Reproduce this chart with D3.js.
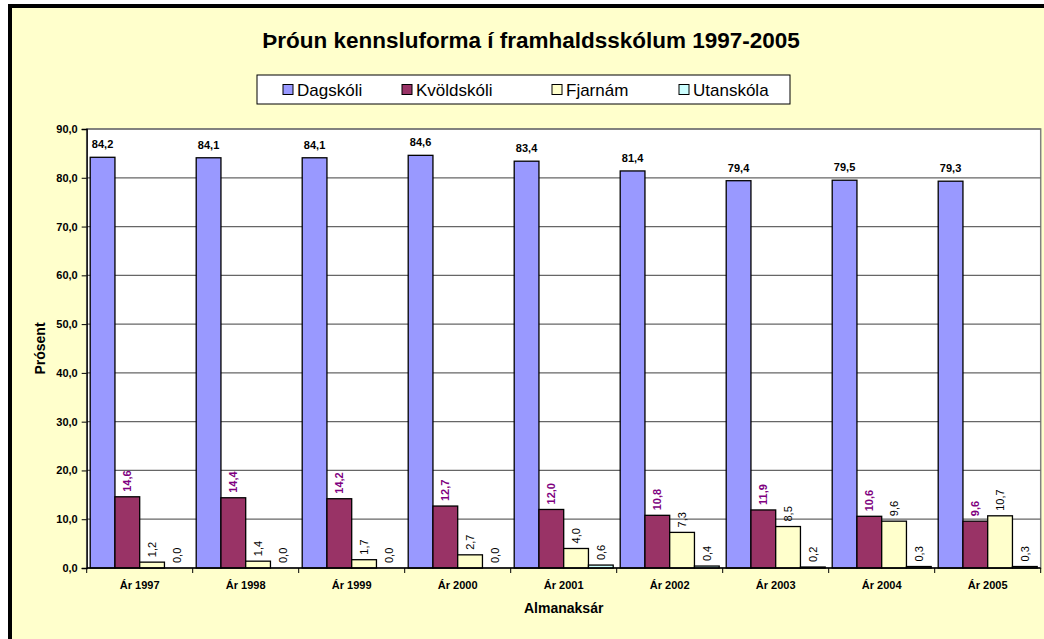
<!DOCTYPE html>
<html>
<head>
<meta charset="utf-8">
<script src="https://cdn.jsdelivr.net/npm/d3@7"></script>
<style>
	body { margin: 0; background: white; }
	text { font-family: Arial, 'Liberation Sans', sans-serif; }
</style>
</head>
<body>
<div id="outer"></div>
<script>

////////// DATA //////////
const years = ['Ár 1997', 'Ár 1998', 'Ár 1999', 'Ár 2000', 'Ár 2001', 'Ár 2002', 'Ár 2003', 'Ár 2004', 'Ár 2005'];
const seriesNames = ['Dagskóli', 'Kvöldskóli', 'Fjarnám', 'Utanskóla'];
const dagskoli = [84.2, 84.1, 84.1, 84.6, 83.4, 81.4, 79.4, 79.5, 79.3];
const kvoldskoli = [14.6, 14.4, 14.2, 12.7, 12.0, 10.8, 11.9, 10.6, 9.6];
const fjarnam = [1.2, 1.4, 1.7, 2.7, 4.0, 7.3, 8.5, 9.6, 10.7];
const utanskola = [0.0, 0.0, 0.0, 0.0, 0.6, 0.4, 0.2, 0.3, 0.3];
const yTicks = [0, 10, 20, 30, 40, 50, 60, 70, 80, 90];

const titleText = 'Þróun kennsluforma í framhaldsskólum 1997-2005';
const xTitle = 'Almanaksár';
const yTitle = 'Prósent';


////////// SIZING / STYLE //////////
const width = 1044;
const height = 639;
const plot = {left: 86.7, right: 1040.7, top: 129, bottom: 568};
const colors = ['#9999FF', '#993366', '#FFFFCC', '#CCFFFF'];
const labelColors = ['#000000', '#800080', '#000000', '#000000'];
const labelWeights = ['bold', 'bold', 'normal', 'normal'];
const legendItemX = [283, 402, 552, 679];	// swatch positions as laid out in the legend box

const fmt = v => d3.format('.1f')(v).replace('.', ',');

const seriesValues = [dagskoli, kvoldskoli, fjarnam, utanskola];
const rows = years.map((yr, i) => ({
	year: yr,
	values: seriesNames.map((s, j) => ({series: s, idx: j, value: seriesValues[j][i]}))
}));


////////// SCALES //////////
const gapRatio = 0.066;
const x0 = d3.scaleBand()
	.domain(years)
	.range([plot.left, plot.right])
	.paddingInner(gapRatio)
	.paddingOuter(gapRatio / 2);
const x1 = d3.scaleBand()
	.domain(seriesNames)
	.range([0, x0.bandwidth()]);
const y = d3.scaleLinear()
	.domain([0, 90])
	.range([plot.bottom, plot.top]);


////////// INIT //////////
const svg = d3.select('#outer').append('svg')
	.attr('width', width)
	.attr('height', height);

// chart area (frame runs off the right / bottom of the picture)
svg.append('rect')
	.attr('x', 10)
	.attr('y', 6)
	.attr('width', 1200)
	.attr('height', 800)
	.attr('fill', '#FFFFCC')
	.attr('stroke', 'black')
	.attr('stroke-width', 4);

// plot area
svg.append('rect')
	.attr('x', plot.left)
	.attr('y', plot.top)
	.attr('width', plot.right - plot.left)
	.attr('height', plot.bottom - plot.top)
	.attr('fill', 'white')
	.attr('stroke', '#808080')
	.attr('stroke-width', 1.5);

// GRID //
svg.append('g')
	.selectAll('line')
	.data(yTicks.slice(1))
	.join('line')
		.attr('x1', plot.left)
		.attr('x2', plot.right)
		.attr('y1', d => y(d))
		.attr('y2', d => y(d))
		.attr('stroke', '#666666')
		.attr('stroke-width', 1.2);


////////// BARS //////////
const groups = svg.append('g')
	.selectAll('g')
	.data(rows)
	.join('g')
		.attr('transform', d => `translate(${x0(d.year)},0)`);

groups.selectAll('rect')
	.data(d => d.values)
	.join('rect')
		.attr('x', d => x1(d.series))
		.attr('y', d => y(d.value))
		.attr('width', x1.bandwidth())
		.attr('height', d => y(0) - y(d.value))
		.attr('fill', d => colors[d.idx])
		.attr('stroke', 'black')
		.attr('stroke-width', 1.3);

// DATA LABELS //
groups.selectAll('text.lbl')
	.data(d => d.values)
	.join('text')
		.attr('class', 'lbl')
		.attr('font-size', '11px')
		.attr('fill', d => labelColors[d.idx])
		.attr('font-weight', d => labelWeights[d.idx])
		.attr('text-anchor', d => d.idx === 0 ? 'middle' : 'start')
		.attr('dominant-baseline', d => d.idx === 0 ? 'auto' : 'central')
		.attr('transform', d => {
			const cx = x1(d.series) + x1.bandwidth() / 2;
			if (d.idx === 0) return `translate(${cx},${y(d.value) - 9})`;
			return `translate(${cx},${y(d.value) - 5}) rotate(-90)`;
		})
		.text(d => fmt(d.value));


////////// AXES //////////
const yAxis = svg.append('g')
	.attr('transform', `translate(${plot.left},0)`)
	.call(d3.axisLeft(y).tickValues(yTicks).tickFormat(fmt).tickSize(5).tickPadding(4));
yAxis.select('.domain').attr('stroke', 'black').attr('stroke-width', 1.3);
yAxis.selectAll('.tick line').attr('stroke', 'black');
yAxis.selectAll('.tick text')
	.attr('font-size', '11px')
	.attr('font-weight', 'bold')
	.attr('font-family', 'Arial, "Liberation Sans", sans-serif')
	.attr('fill', 'black');

// x axis line + ticks on category boundaries
const step = x0.step();
svg.append('line')
	.attr('x1', plot.left)
	.attr('x2', plot.right)
	.attr('y1', y(0))
	.attr('y2', y(0))
	.attr('stroke', 'black')
	.attr('stroke-width', 1.3);
svg.append('g')
	.selectAll('line')
	.data(d3.range(years.length + 1))
	.join('line')
		.attr('x1', i => plot.left + i * step)
		.attr('x2', i => plot.left + i * step)
		.attr('y1', y(0))
		.attr('y2', y(0) + 5)
		.attr('stroke', 'black');
svg.append('g')
	.selectAll('text')
	.data(years)
	.join('text')
		.attr('x', d => x0(d) + x0.bandwidth() / 2)
		.attr('y', 589)
		.attr('text-anchor', 'middle')
		.attr('font-size', '11px')
		.attr('font-weight', 'bold')
		.text(d => d);

// axis titles
svg.append('text')
	.attr('x', (plot.left + plot.right) / 2)
	.attr('y', 613)
	.attr('text-anchor', 'middle')
	.attr('font-size', '14px')
	.attr('font-weight', 'bold')
	.text(xTitle);
svg.append('text')
	.attr('transform', `translate(45,${(plot.top + plot.bottom) / 2}) rotate(-90)`)
	.attr('text-anchor', 'middle')
	.attr('font-size', '14px')
	.attr('font-weight', 'bold')
	.text(yTitle);


////////// TITLE //////////
svg.append('text')
	.attr('x', 531)
	.attr('y', 48)
	.attr('text-anchor', 'middle')
	.attr('font-size', '22.5px')
	.attr('font-weight', 'bold')
	.text(titleText);


////////// LEGEND //////////
svg.append('rect')
	.attr('x', 257)
	.attr('y', 75)
	.attr('width', 533)
	.attr('height', 29)
	.attr('fill', 'white')
	.attr('stroke', 'black')
	.attr('stroke-width', 1);

const legendItems = svg.append('g')
	.selectAll('g')
	.data(seriesNames)
	.join('g')
		.attr('transform', (d, i) => `translate(${legendItemX[i]},84.5)`);
legendItems.append('rect')
	.attr('width', 10)
	.attr('height', 10)
	.attr('fill', (d, i) => colors[i])
	.attr('stroke', 'black')
	.attr('stroke-width', 1);
legendItems.append('text')
	.attr('x', 14)
	.attr('y', 11.5)
	.attr('font-size', '17px')
	.text(d => d);

</script>
</body>
</html>
